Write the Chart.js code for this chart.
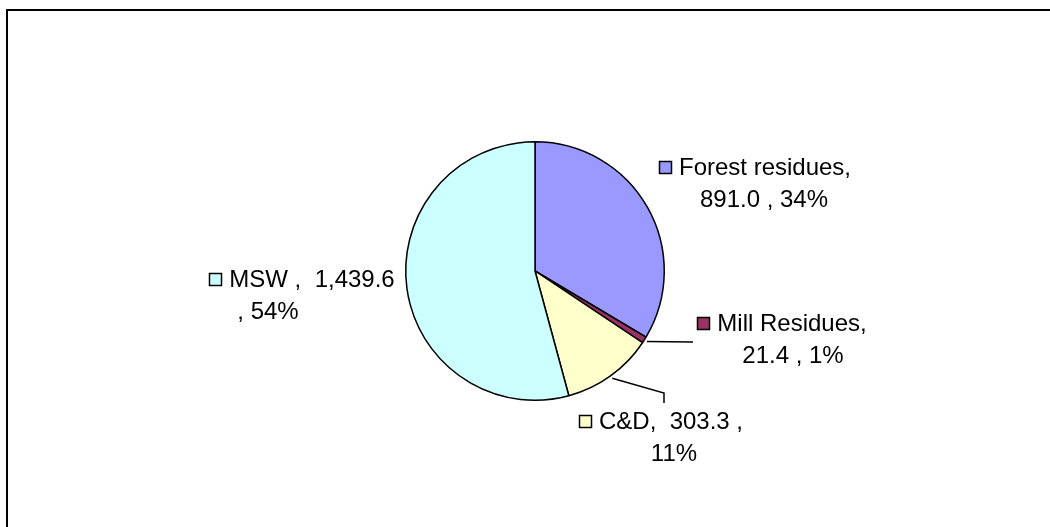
<!DOCTYPE html>
<html>
<head>
<meta charset="utf-8">
<script src="https://cdn.jsdelivr.net/npm/chart.js@4/dist/chart.umd.min.js"></script>
<style>
  html, body { margin: 0; padding: 0; background: #fff; overflow: hidden; }
  #wrap { position: relative; width: 1050px; height: 527px; }
  #frame { position: absolute; left: 6px; top: 9px; width: 1100px; height: 600px; border: 2px solid #000; }
  #chart { position: absolute; left: 0; top: 0; }
</style>
</head>
<body>
<div id="wrap">
  <div id="frame"></div>
  <canvas id="chart" width="1050" height="527"></canvas>
</div>
<script>
// chart data
const categories = ["Forest residues", "Mill Residues", "C&D", "MSW "];
const values = [891.0, 21.4, 303.3, 1439.6];
const sliceColors = ["#9999FF", "#993366", "#FFFFCC", "#CCFFFF"];

const total = values.reduce((a, b) => a + b, 0);
const fmt = v => v.toLocaleString("en-US", { minimumFractionDigits: 1, maximumFractionDigits: 1 });
const pct = v => Math.round(v / total * 100) + "%";

// label text, wrapped the way the original wraps it
function labelLines(i) {
  const name = categories[i], v = fmt(values[i]), p = pct(values[i]);
  if (i === 2) return [name + ",  " + v + " ,", p];
  if (i === 3) return [name + ",  " + v, ", " + p];
  return [name + ",", v + " , " + p];
}

// label placement: x1/x2 = center of each text line, y = middle of first line
const labelPos = [
  { x1: 765, x2: 764, y: 168 },
  { x1: 792, x2: 793, y: 324 },
  { x1: 671, x2: 674, y: 422 },
  { x1: 312, x2: 268, y: 280 }
];
const lineH = 32;
// leader lines for slices whose label is away from the pie
const leaders = {
  1: [[693, 342]],
  2: [[664, 393], [664, 403]]
};

const labelPlugin = {
  id: "pieLabels",
  afterDraw(chart) {
    const ctx = chart.ctx;
    const arcs = chart.getDatasetMeta(0).data;
    ctx.save();
    ctx.font = "24px 'Liberation Sans', Arial, sans-serif";
    ctx.textBaseline = "middle";
    ctx.textAlign = "center";
    arcs.forEach((arc, i) => {
      // leader line
      if (leaders[i]) {
        const mid = (arc.startAngle + arc.endAngle) / 2;
        const r = arc.outerRadius + 3;
        ctx.beginPath();
        ctx.strokeStyle = "#000";
        ctx.lineWidth = 1.5;
        ctx.moveTo(arc.x + Math.cos(mid) * r, arc.y + Math.sin(mid) * r);
        leaders[i].forEach(p => ctx.lineTo(p[0], p[1]));
        ctx.stroke();
      }
      const lines = labelLines(i);
      const pos = labelPos[i];
      ctx.fillStyle = "#000";
      ctx.fillText(lines[0], pos.x1, pos.y);
      ctx.fillText(lines[1], pos.x2, pos.y + lineH);
      // legend key square before first line
      const w = ctx.measureText(lines[0]).width;
      const sx = Math.round(pos.x1 - w / 2 - 20);
      const sy = Math.round(pos.y - 7);
      ctx.fillStyle = sliceColors[i];
      ctx.fillRect(sx, sy, 13, 13);
      ctx.strokeStyle = "#000";
      ctx.lineWidth = 1.5;
      ctx.strokeRect(sx + 0.5, sy + 0.5, 12, 12);
    });
    ctx.restore();
  }
};

new Chart(document.getElementById("chart"), {
  type: "pie",
  data: {
    labels: categories,
    datasets: [{
      data: values,
      backgroundColor: sliceColors,
      borderColor: "#000",
      borderWidth: 1.5,
      hoverOffset: 0
    }]
  },
  options: {
    responsive: false,
    devicePixelRatio: 1,
    animation: false,
    layout: { padding: { left: 100, right: 80, top: 141, bottom: 126 } },
    plugins: {
      legend: { display: false },
      tooltip: { enabled: false }
    }
  },
  plugins: [labelPlugin]
});
</script>
</body>
</html>
